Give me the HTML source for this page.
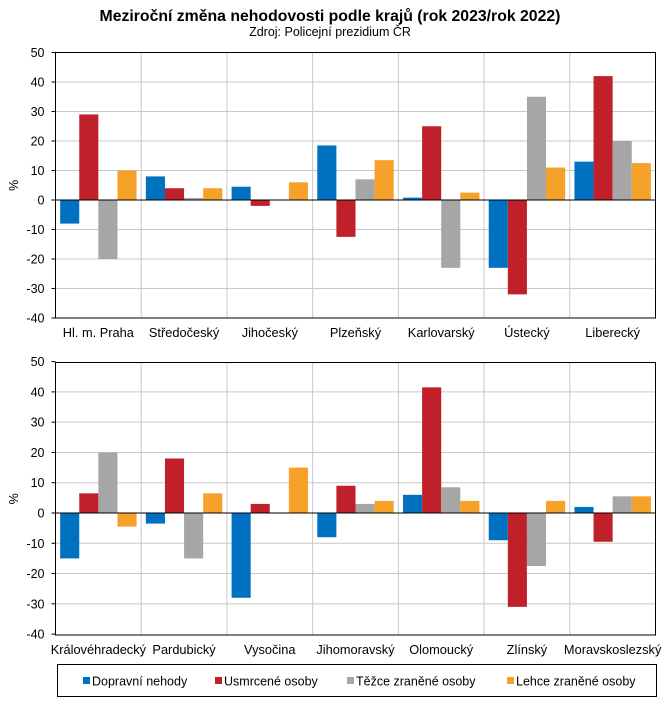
<!DOCTYPE html>
<html><head><meta charset="utf-8"><style>
body{margin:0;background:#fff;}
svg text{font-family:"Liberation Sans",Arial,sans-serif;}
</style></head><body>
<svg width="663" height="705" xmlns="http://www.w3.org/2000/svg" id="s"></svg>
<script>
const s=document.getElementById('s');
let h='';
h+='<text x="330" y="21" font-size="15.8" font-weight="bold" text-anchor="middle">Meziroční změna nehodovosti podle krajů (rok 2023/rok 2022)</text>';
h+='<text x="330" y="36" font-size="12.5" text-anchor="middle">Zdroj: Policejní prezidium ČR</text>';
const cols=['#0070c0','#c0202a','#a6a6a6','#f5a12a'];
const L=55.5,R=655.5,cw=(R-L)/7,bw=19.1,off=(cw-4*bw)/2;
function chart(top,zero,bot,names,vals){
  const ppu=(bot-top)/90;
  for(let v=-40;v<=50;v+=10){const y=zero-v*ppu;
    if(v!==0&&v!==50&&v!==-40)h+=`<line x1="${L}" x2="${R}" y1="${y}" y2="${y}" stroke="#c8c8c8" stroke-width="1"/>`;
    h+=`<line x1="${L-4}" x2="${L}" y1="${y}" y2="${y}" stroke="#000"/>`;
    h+=`<text x="${L-11}" y="${y+4.5}" font-size="12.5" text-anchor="end">${v}</text>`;}
  for(let i=1;i<7;i++){const x=L+i*cw;h+=`<line x1="${x}" x2="${x}" y1="${top}" y2="${bot}" stroke="#c8c8c8"/>`;}
  for(let i=0;i<7;i++){for(let j=0;j<4;j++){const v=vals[i][j];const x=L+i*cw+off+j*bw;
    const y=v>=0?zero-v*ppu:zero;const hh=Math.abs(v)*ppu;
    h+=`<rect x="${x}" y="${y}" width="${bw}" height="${hh}" fill="${cols[j]}"/>`;}
    h+=`<text x="${L+i*cw+cw/2}" y="${bot+19}" font-size="12.8" text-anchor="middle">${names[i]}</text>`;}
  h+=`<line x1="${L}" x2="${R}" y1="${zero}" y2="${zero}" stroke="#000"/>`;
  h+=`<rect x="${L}" y="${top}" width="${R-L}" height="${bot-top}" fill="none" stroke="#000"/>`;
  const my=(top+bot)/2;
  h+=`<text x="18" y="${my}" font-size="12.5" text-anchor="middle" transform="rotate(-90 18 ${my})">%</text>`;
}
chart(52.5,200,318,['Hl. m. Praha','Středočeský','Jihočeský','Plzeňský','Karlovarský','Ústecký','Liberecký'],
[[-8,29,-20,10],[8,4,0.7,4],[4.5,-2,0,6],[18.5,-12.5,7,13.5],[0.8,25,-23,2.5],[-23,-32,35,11],[13,42,20,12.5]]);
chart(362.5,513,635,['Královéhradecký','Pardubický','Vysočina','Jihomoravský','Olomoucký','Zlínský','Moravskoslezský'],
[[-15,6.5,20,-4.5],[-3.5,18,-15,6.5],[-28,3,0,15],[-8,9,3,4],[6,41.5,8.5,4],[-9,-31,-17.5,4],[2,-9.5,5.5,5.5]]);
h+='<rect x="57.5" y="664.5" width="599" height="32" fill="none" stroke="#000"/>';
const lg=[[83,'Dopravní nehody'],[215,'Usmrcené osoby'],[347,'Těžce zraněné osoby'],[507,'Lehce zraněné osoby']];
lg.forEach((l,i)=>{h+=`<rect x="${l[0]}" y="677" width="7" height="7" fill="${cols[i]}"/><text x="${l[0]+9}" y="685.5" font-size="12.5">${l[1]}</text>`;});
s.innerHTML=h;
</script>
</body></html>
